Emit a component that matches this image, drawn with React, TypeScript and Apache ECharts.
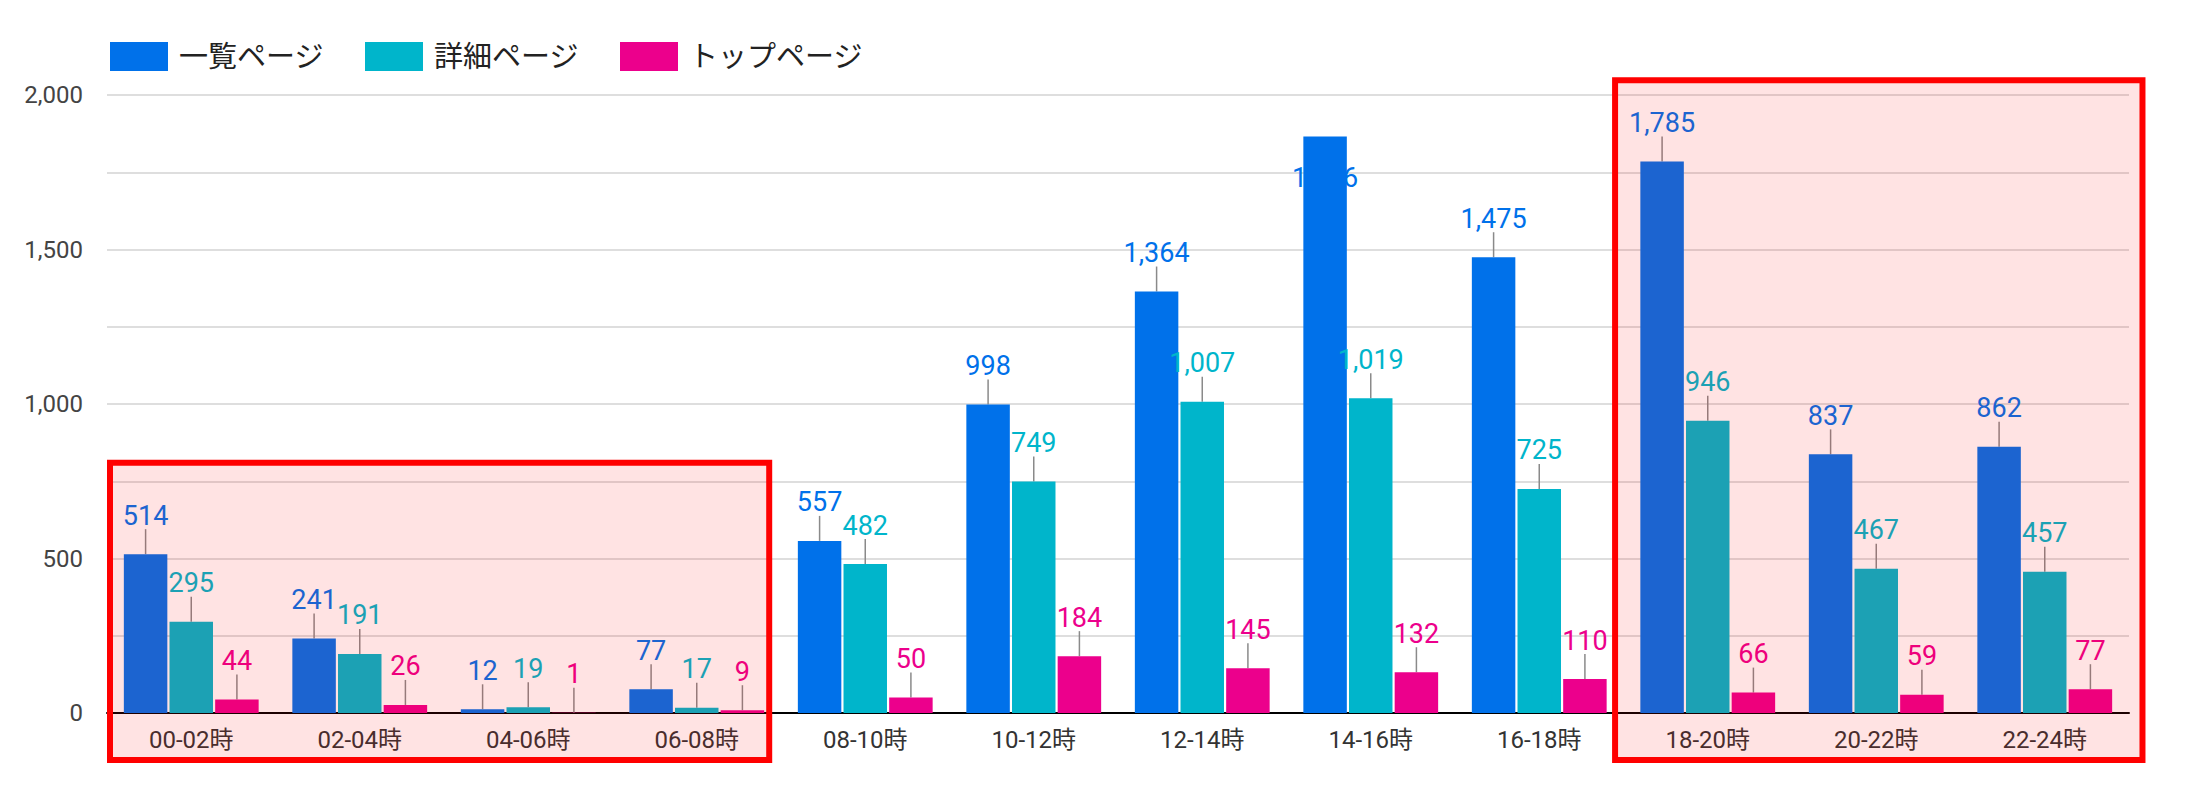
import React, { useEffect, useRef } from "react";
import * as echarts from "echarts";

const categories = ["00-02時", "02-04時", "04-06時", "06-08時", "08-10時", "10-12時", "12-14時", "14-16時", "16-18時", "18-20時", "20-22時", "22-24時"];
const seriesNames = ["一覧ページ", "詳細ページ", "トップページ"];
const listPage = [514, 241, 12, 77, 557, 998, 1364, 1866, 1475, 1785, 837, 862];
const detailPage = [295, 191, 19, 17, 482, 749, 1007, 1019, 725, 946, 467, 457];
const topPage = [44, 26, 1, 9, 50, 184, 145, 132, 110, 66, 59, 77];
const colors = ["#0071EA", "#00B5CB", "#EC008C"];
const yMax = 2000;
const yInterval = 250;
const yLabelStep = 500;
// highlighted category ranges [first, last]
const highlightRanges = [
  { from: 0, to: 3, topValue: 810 },
  { from: 9, to: 11, topValue: 2048 },
];

const FONT = 'Roboto, "Noto Sans CJK JP", sans-serif';

export default function App() {
  const ref = useRef<HTMLDivElement>(null);
  useEffect(() => {
    if (!ref.current) return;
    const chart = echarts.init(ref.current, undefined, { renderer: "svg" });
    const allData = [listPage, detailPage, topPage];
    const makeData = (arr: number[], si: number) =>
      arr.map((v, i) => {
        if (si === 0 && i === 7) {
          return {
            value: v,
            label: { position: "insideTop", distance: 28, color: colors[0] },
            labelLine: { show: false },
          };
        }
        return v;
      });
    chart.setOption({
      animation: false,
      textStyle: { fontFamily: FONT },
      legend: {
        top: 37,
        left: 105,
        itemWidth: 58,
        itemHeight: 29,
        itemGap: 41,
        icon: "rect",
        textStyle: { fontSize: 29, color: "#222", fontFamily: FONT, padding: [0, 0, 0, 6] },
        data: seriesNames,
      },
      grid: { left: 107, right: 68, top: 95, bottom: 81, containLabel: false },
      xAxis: {
        type: "category",
        data: categories,
        axisLine: { lineStyle: { color: "#000", width: 2 } },
        axisTick: { show: false },
        axisLabel: { fontSize: 24, color: "#333", margin: 15, fontFamily: FONT },
      },
      yAxis: {
        type: "value",
        min: 0,
        max: yMax,
        interval: yInterval,
        axisLine: { show: false },
        axisTick: { show: false },
        splitLine: { lineStyle: { color: "#d3d3d3", width: 1.5 } },
        axisLabel: {
          fontSize: 24,
          color: "#444",
          margin: 24,
          fontFamily: FONT,
          formatter: (v: number) => (v % yLabelStep === 0 ? v.toLocaleString("en-US") : ""),
        },
      },
      series: allData.map((arr, si) => ({
        name: seriesNames[si],
        type: "bar",
        barCategoryGap: "20%",
        barGap: "5%",
        itemStyle: { color: colors[si] },
        data: makeData(arr, si),
        label: {
          show: true,
          position: "top",
          distance: 5,
          fontSize: 27,
          color: colors[si],
          fontFamily: FONT,
          formatter: (p: any) => Number(p.value).toLocaleString("en-US"),
        },
        labelLayout: (p: any) => {
          if (si === 0 && p.dataIndex === 7) return {};
          return { dy: -20 };
        },
        labelLine: { show: true, lineStyle: { color: "#8a8a8a", width: 1.5 } },
      })),
    });

    const c0 = chart.convertToPixel({ xAxisIndex: 0 }, categories[0]) as number;
    const c1 = chart.convertToPixel({ xAxisIndex: 0 }, categories[1]) as number;
    const band = c1 - c0;
    const yZero = chart.convertToPixel({ yAxisIndex: 0 }, 0) as number;
    const graphics = highlightRanges.map((r, idx) => {
      const cf = chart.convertToPixel({ xAxisIndex: 0 }, categories[r.from]) as number;
      const ct = chart.convertToPixel({ xAxisIndex: 0 }, categories[r.to]) as number;
      const yt = chart.convertToPixel({ yAxisIndex: 0 }, r.topValue) as number;
      const left = idx === 0 ? cf - band / 2 + 3 : cf - band * 0.55;
      const right = idx === 0 ? ct + band * 0.43 : ct + band * 0.58;
      return {
        type: "rect",
        z: 100,
        shape: { x: left, y: yt, width: right - left, height: yZero + 47 - yt },
        style: { fill: "rgba(255,0,0,0.11)", stroke: "#ff0000", lineWidth: 6 },
        silent: true,
      };
    });
    chart.setOption({ graphic: graphics });

    return () => chart.dispose();
  }, []);
  return <div ref={ref} style={{ position: "fixed", left: 0, top: 0, width: 2197, height: 794, background: "#fff" }} />;
}
